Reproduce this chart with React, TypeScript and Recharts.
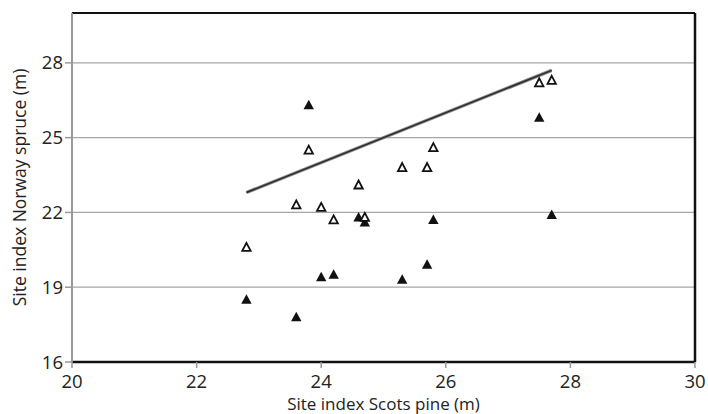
import React from 'react'
import {
  ScatterChart, Scatter, XAxis, YAxis, CartesianGrid, ReferenceLine, Label,
} from 'recharts'

// site index pairs: Scots pine (x) vs Norway spruce (y)
const pineSI = [22.8, 23.6, 23.8, 24.0, 24.2, 24.6, 24.7, 25.3, 25.7, 25.8, 27.5, 27.7]
const spruceOpen = [20.6, 22.3, 24.5, 22.2, 21.7, 23.1, 21.8, 23.8, 23.8, 24.6, 27.2, 27.3]
const spruceFilled = [18.5, 17.8, 26.3, 19.4, 19.5, 21.8, 21.6, 19.3, 19.9, 21.7, 25.8, 21.9]

// 1:1 line end points
const lineX = [22.8, 27.7]
const lineY = [22.8, 27.7]

const xTicks = [20, 22, 24, 26, 28, 30]
const yTicks = [16, 19, 22, 25, 28]

const openData = pineSI.map((x, i) => ({ x, y: spruceOpen[i] }))
const filledData = pineSI.map((x, i) => ({ x, y: spruceFilled[i] }))
const lineData = lineX.map((x, i) => ({ x, y: lineY[i] }))

const FONT = '"Open Sans", sans-serif'

const FilledTri = (props: any) => {
  const { cx, cy } = props
  if (cx == null || cy == null) return null
  return <path d={`M${cx},${cy - 5.5} L${cx + 5.2},${cy + 4} L${cx - 5.2},${cy + 4} Z`} fill="#111" />
}

const OpenTri = (props: any) => {
  const { cx, cy } = props
  if (cx == null || cy == null) return null
  return (
    <path
      d={`M${cx},${cy - 4.5} L${cx + 4.2},${cy + 3.5} L${cx - 4.2},${cy + 3.5} Z`}
      fill="#fff"
      stroke="#111"
      strokeWidth={1.8}
    />
  )
}

const NoDot = () => null

const XTitle = ({ viewBox }: any) => {
  const cx = viewBox.x + viewBox.width / 2
  return (
    <text x={cx} y={410} textAnchor="middle" fontSize={17} fill="#222" fontFamily={FONT}>
      Site index Scots pine (m)
    </text>
  )
}

const YTitle = ({ viewBox }: any) => {
  const cy = viewBox.y + viewBox.height / 2
  return (
    <text
      x={26}
      y={cy}
      transform={`rotate(-90 26 ${cy})`}
      textAnchor="middle"
      fontSize={17.5}
      fill="#222"
      fontFamily={FONT}
    >
      Site index Norway spruce (m)
    </text>
  )
}

export default function App() {
  return (
    <div style={{ position: 'absolute', left: 0, top: 0, background: '#fff' }}>
      <ScatterChart
        width={708}
        height={414}
        margin={{ top: 13, right: 13, left: 0, bottom: 0 }}
      >
        <CartesianGrid vertical={false} stroke="#a6a6a6" strokeWidth={1.3} />
        <XAxis
          type="number"
          dataKey="x"
          domain={[20, 30]}
          ticks={xTicks}
          height={52}
          axisLine={{ stroke: '#111', strokeWidth: 2.5 }}
          tickLine={{ stroke: '#999', strokeWidth: 1.5 }}
          tickSize={6}
          tickMargin={7}
          tick={{ fontSize: 18.5, fill: '#222', fontFamily: FONT }}
          interval={0}
        >
          <Label content={XTitle} />
        </XAxis>
        <YAxis
          type="number"
          dataKey="y"
          domain={[16, 30]}
          ticks={yTicks}
          width={72}
          axisLine={{ stroke: '#999', strokeWidth: 2 }}
          tickLine={{ stroke: '#999', strokeWidth: 1.5 }}
          tickSize={7}
          tickMargin={2}
          tick={{ fontSize: 18.5, fill: '#222', fontFamily: FONT }}
          interval={0}
        >
          <Label content={YTitle} />
        </YAxis>
        <ReferenceLine y={30} stroke="#111" strokeWidth={2} />
        <ReferenceLine x={30} stroke="#111" strokeWidth={2.5} />
        <Scatter
          data={lineData}
          line={{ stroke: '#888', strokeWidth: 3.4 }}
          shape={NoDot}
          isAnimationActive={false}
        />
        <Scatter
          data={lineData}
          line={{ stroke: '#2a2a2a', strokeWidth: 1.5 }}
          shape={NoDot}
          isAnimationActive={false}
        />
        <Scatter data={filledData} shape={FilledTri} isAnimationActive={false} />
        <Scatter data={openData} shape={OpenTri} isAnimationActive={false} />
      </ScatterChart>
    </div>
  )
}
